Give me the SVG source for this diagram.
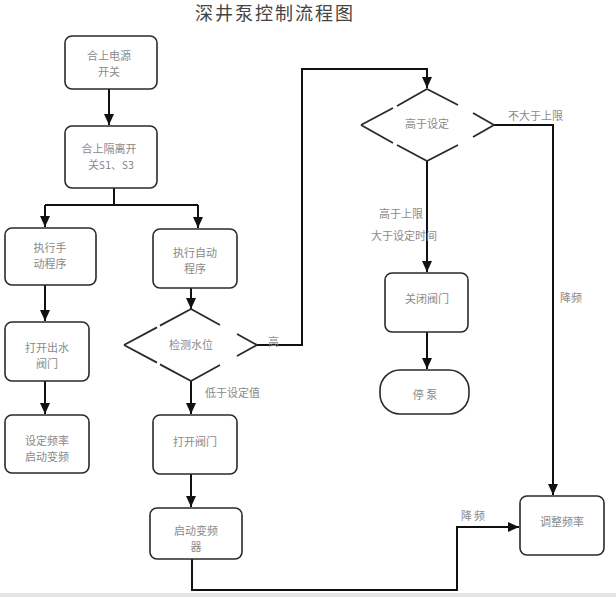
<svg xmlns="http://www.w3.org/2000/svg" width="616" height="597" viewBox="0 0 616 597">
<style>
.box{fill:#fff;stroke:#2a2a2a;stroke-width:1.6}
.dia{fill:none;stroke:#2a2a2a;stroke-width:1.8}
.t{font-family:"Noto Sans CJK SC","Liberation Serif",serif;font-size:11px;fill:#8a8a8a;text-anchor:middle}
.lbl{font-family:"Noto Sans CJK SC","Liberation Serif",serif;font-size:11px;fill:#8a8a8a}
.title{font-family:"Noto Sans CJK SC","Liberation Serif",serif;font-size:18px;fill:#444;letter-spacing:2px}
.c{fill:none;stroke:#111;stroke-width:2}
</style>
<defs>
<marker id="ah" markerUnits="userSpaceOnUse" markerWidth="10" markerHeight="12" refX="5" refY="11" viewBox="0 0 10 12">
<path d="M0,0 L10,0 L5,11 Z" fill="#111"/>
</marker>
<marker id="ar" markerUnits="userSpaceOnUse" markerWidth="12" markerHeight="10" refX="11" refY="5" viewBox="0 0 12 10">
<path d="M0,0 L11,5 L0,10 Z" fill="#111"/>
</marker>
</defs>
<rect width="616" height="597" fill="#fff"/>
<text class="title" x="195" y="20">深井泵控制流程图</text>

<g id="connectors">
<path class="c" d="M109,89 V125" marker-end="url(#ah)"/>
<path class="c" d="M114,188 V205"/>
<path class="c" d="M45,205 H198"/>
<path class="c" d="M45,205 V227" marker-end="url(#ah)"/>
<path class="c" d="M198,205 V228" marker-end="url(#ah)"/>
<path class="c" d="M45,285 V321" marker-end="url(#ah)"/>
<path class="c" d="M191,288 V309" marker-end="url(#ah)"/>
<path class="c" d="M45,381 V414" marker-end="url(#ah)"/>
<path class="c" d="M191,381 V414" marker-end="url(#ah)"/>
<path class="c" d="M191,474 V507" marker-end="url(#ah)"/>
<path class="c" d="M257,345 H302 V69 H427 V88" marker-end="url(#ah)"/>
<path class="c" d="M427,161 V272" marker-end="url(#ah)"/>
<path class="c" d="M427,332 V369" marker-end="url(#ah)"/>
<path class="c" stroke-width="1.6" d="M494,125 H553 V495" marker-end="url(#ah)"/>
<path class="c" stroke-width="1.6" d="M192,559 V590 H457 V527 H519" marker-end="url(#ar)"/>
<text class="lbl" x="268" y="346">高</text>
<text class="lbl" x="205" y="397">低于设定值</text>
<text class="lbl" x="508" y="120">不大于上限</text>
<text class="lbl" x="379" y="218">高于上限</text>
<text class="lbl" x="371" y="240">大于设定时间</text>
<text class="lbl" x="560" y="302">降频</text>
<text class="lbl" x="461" y="520" letter-spacing="2">降频</text>
</g>

<g id="n1"><rect class="box" x="65" y="36" width="92" height="53" rx="7"/><text class="t" x="109" y="60">合上电源</text><text class="t" x="109" y="76">开关</text></g>
<g id="n2"><rect class="box" x="65" y="126" width="92" height="62" rx="7"/><text class="t" x="109" y="153">合上隔离开</text><text class="t" x="111" y="169">关<tspan font-family="'DejaVu Sans Mono',monospace" font-size="10">S1</tspan>、<tspan font-family="'DejaVu Sans Mono',monospace" font-size="10">S3</tspan></text></g>
<g id="n3"><rect class="box" x="5" y="228" width="91" height="57" rx="7"/><text class="t" x="50" y="252">执行手</text><text class="t" x="50" y="268">动程序</text></g>
<g id="n4"><rect class="box" x="153" y="229" width="84" height="59" rx="7"/><text class="t" x="195" y="257">执行自动</text><text class="t" x="195" y="273">程序</text></g>
<g id="n5"><rect class="box" x="5" y="322" width="84" height="59" rx="7"/><text class="t" x="47" y="352">打开出水</text><text class="t" x="47" y="368">阀门</text></g>
<g id="n6"><rect class="box" x="5" y="415" width="84" height="58" rx="7"/><text class="t" x="47" y="445">设定频率</text><text class="t" x="47" y="461">启动变频</text></g>
<g id="n7">
<path class="dia" d="M124,345 L157,327.4 M160,325.6 L191,309 L220,325 M237,334 L257,345 L237,356 M220,365 L191,381 L160,364.4 M157,362.6 L124,345"/>
<text class="t" x="191" y="349">检测水位</text></g>
<g id="n8"><rect class="box" x="153" y="415" width="84" height="59" rx="7"/><text class="t" x="195" y="446">打开阀门</text></g>
<g id="n9"><rect class="box" x="150" y="508" width="92" height="51" rx="7"/><text class="t" x="196" y="535">启动变频</text><text class="t" x="196" y="551">器</text></g>
<g id="n10">
<path class="dia" d="M361,125 L393,108 M397,106 L427,89 L458,105 M473,113 L494,125 L473,137 M458,145 L427,161 L397,145 M393,143 L361,125"/>
<text class="t" x="427" y="128">高于设定</text></g>
<g id="n11"><rect class="box" x="385" y="273" width="83" height="59" rx="7"/><text class="t" x="427" y="303">关闭阀门</text></g>
<g id="n12"><rect class="box" x="380" y="370" width="89" height="44" rx="20"/><text class="t" x="425" y="399">停 泵</text></g>
<g id="n13"><rect class="box" x="520" y="496" width="84" height="59" rx="7"/><text class="t" x="562" y="526">调整频率</text></g>
<rect x="0" y="593" width="616" height="4" fill="#e4e4e4"/>
</svg>
